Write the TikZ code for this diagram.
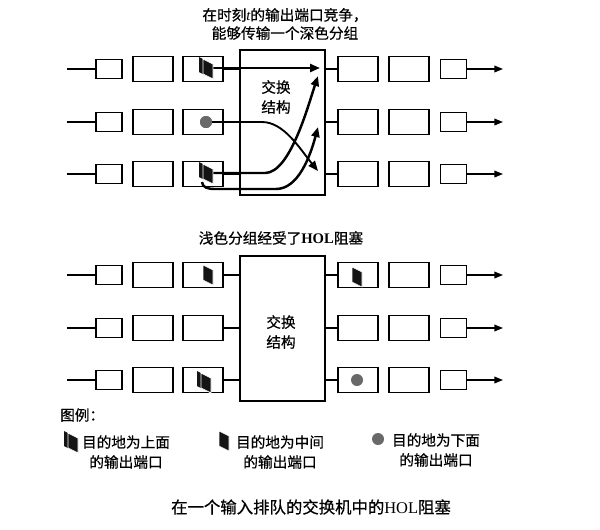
\documentclass[tikz,border=0pt]{standalone}
\usepackage{fontspec}
\setmainfont{Liberation Serif}
\newfontfamily\cjk[FakeBold=0.6]{Noto Sans CJK SC}
\usepackage{tikz}
\usetikzlibrary{arrows.meta}
\definecolor{pktcolor}{RGB}{20,20,20}
\definecolor{dotcolor}{RGB}{105,105,105}
\tikzset{
    portbox/.style={draw, line width=1.3pt, fill=white, minimum width=0.78cm, minimum height=0.57cm, inner sep=0pt},
    bufbox/.style={draw, line width=1.3pt, fill=white, minimum width=1.2cm, minimum height=0.75cm, inner sep=0pt},
    fabric/.style={draw, line width=1.2pt, fill=white, minimum width=2.55cm, minimum height=4.35cm, inner sep=0pt},
    wire/.style={line width=1.2pt},
    outarrow/.style={line width=1.2pt, -{Triangle[length=2.6mm,width=2mm]}},
    flow/.style={line width=2.1pt, -{Triangle[length=3mm,width=2.4mm]}},
    lbl/.style={font=\cjk\fontsize{12.5}{17}\selectfont, align=center, inner sep=0pt},
    pktdot/.style={circle, fill=dotcolor, minimum size=0.36cm, inner sep=0pt},
    pkt/.pic={\filldraw[pktcolor, draw=white, line width=0.5pt] (-5,-10) -- (5,-5) -- (5,10) -- (-5,5) -- cycle;},
    twopkt/.pic={\fill[pktcolor] (-8,-11) -- (2,-6) -- (2,9) -- (-8,4) -- cycle;
        \filldraw[pktcolor, draw=white, line width=0.6pt] (-4,-9) -- (6,-4) -- (6,11) -- (-4,6) -- cycle;}
}

\begin{document}
\begin{tikzpicture}[x=0.03cm, y=-0.03cm]
    \useasboundingbox (0,0) rectangle (600,529);
    % two switches, three ports each
    \foreach \s/\dy in {t/0, b/206}
    {
        \node[fabric] (sw\s) at (282.5,122.5+\dy) {};
        \foreach \y [count=\i] in {69,122,174}
        {
            \coordinate (in\s\i) at (67,\y+\dy);
            \node[portbox] (a\s\i) at (109,\y+\dy) {};
            \node[bufbox] (b\s\i) at (153,\y+\dy) {};
            \node[bufbox] (c\s\i) at (203,\y+\dy) {};
            \node[bufbox] (d\s\i) at (358,\y+\dy) {};
            \node[bufbox] (e\s\i) at (409,\y+\dy) {};
            \node[portbox] (f\s\i) at (453.5,\y+\dy) {};
            \coordinate (out\s\i) at (503,\y+\dy);
            \draw[wire] (in\s\i) -- (a\s\i);
            \draw[wire] (c\s\i.east) -- (c\s\i.east -| sw\s.west);
            \draw[wire] (sw\s.east |- d\s\i) -- (d\s\i.west);
            \draw[outarrow] (f\s\i) -- (out\s\i);
        }
    }
    \node[lbl] (fabt) at (276,97) {交换\\结构};
    \node[lbl] (fabb) at (281,332) {交换\\结构};

    % titles
    \node[lbl, font=\cjk\fontsize{12.5}{15.5}\selectfont] (titlet) at (285,24) {在时刻{\rmfamily\itshape t}的输出端口竞争，\\能够传输一个深色分组};
    \node[lbl] (titleb) at (281,238) {浅色分组经受了{\rmfamily\bfseries HOL}阻塞};

    % contention at time t
    \coordinate (p1) at (207,68);
    \coordinate (p3) at (207,173);
    \coordinate (p3b) at (202,182);
    \coordinate (q1) at (320,68);
    \coordinate (q1b) at (318,76);
    \coordinate (q2) at (318,127);
    \coordinate (q3) at (318,171);
    \node[pktdot] (pk2) at (206,122) {};
    \draw[flow] (p1) -- (q1);
    \draw[flow, line width=1.6pt] (pk2) -- ++(56,0) .. controls +(22,0) and +(-18,-22) .. (q3);
    \draw[flow] (p3) -- ++(58,0) .. controls +(25,0) and +(-10,30) .. (q1b);
    \draw[flow] (p3b) to[out=-90,in=180] ++(12,7) -- ++(62,0) .. controls +(22,0) and +(-8,30) .. (q2);
    \node[pktdot] at (206,122) {};
    \pic at (207,68) {twopkt};
    \pic at (207,173) {twopkt};

    % HOL blocking
    \pic at (208,275) {pkt};
    \pic at (357,277) {pkt};
    \pic at (205,382) {twopkt};
    \node[pktdot] (pk5) at (357,380) {};

    % legend
    \node[lbl, anchor=west] (key) at (60,415) {图例：};
    \pic at (72,442) {twopkt};
    \node[lbl] (key1) at (126,452) {目的地为上面\\的输出端口};
    \pic at (224,441) {pkt};
    \node[lbl] (key2) at (280,452) {目的地为中间\\的输出端口};
    \node[pktdot] (key3dot) at (378,439) {};
    \node[lbl] (key3) at (436,450) {目的地为下面\\的输出端口};

    \node[lbl, font=\cjk\fontsize{14}{17}\selectfont] (caption) at (311,507) {在一个输入排队的交换机中的{\rmfamily HOL}阻塞};
\end{tikzpicture}
\end{document}
